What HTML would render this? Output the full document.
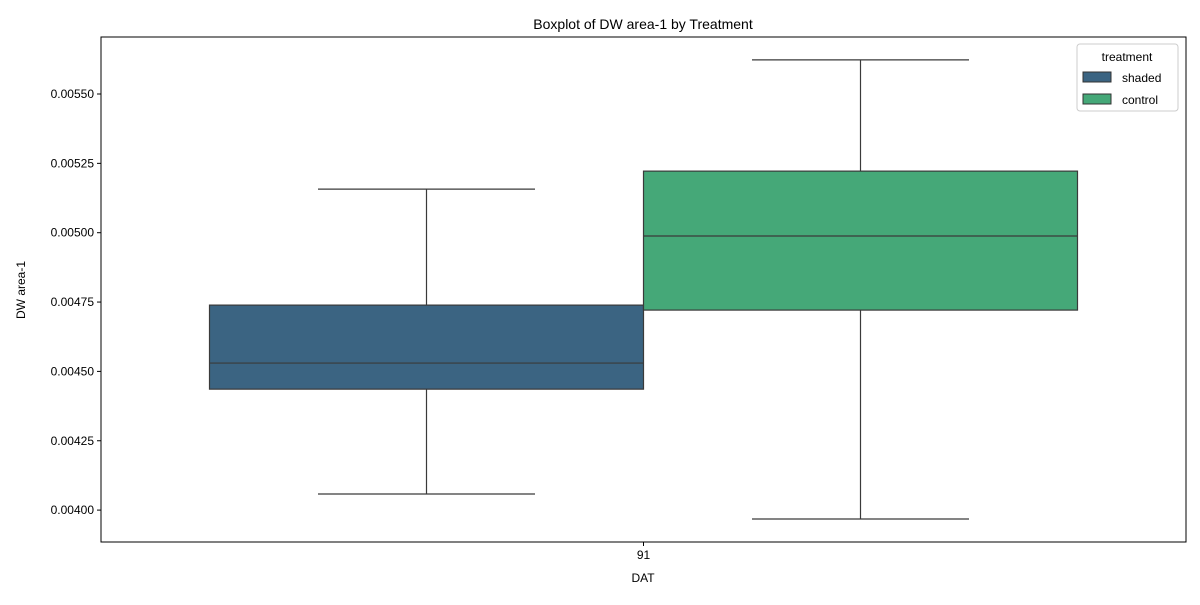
<!DOCTYPE html>
<html><head><meta charset="utf-8"><style>
body{margin:0;background:#fff;font-family:"Liberation Sans",sans-serif;}
svg text{font-family:"Liberation Sans",sans-serif;fill:#000;}
</style></head><body>
<svg width="1200" height="600">
<rect x="0" y="0" width="1200" height="600" fill="#fff"/>
<g id="plot"></g>
<text x="643" y="29" font-size="14" text-anchor="middle">Boxplot of DW area-1 by Treatment</text>
<text x="643" y="582" font-size="12" text-anchor="middle">DAT</text>
<text transform="translate(25,290) rotate(-90)" font-size="12" text-anchor="middle">DW area-1</text>
<g>
<rect x="1077" y="44" width="101" height="67" rx="3" fill="#fff" stroke="#ccc"/>
<text x="1127" y="61" font-size="12" text-anchor="middle">treatment</text>
<rect x="1083" y="72" width="28" height="10" fill="#3b6482" stroke="#333"/>
<text x="1122" y="82" font-size="12">shaded</text>
<rect x="1083" y="94" width="28" height="10" fill="#45a878" stroke="#333"/>
<text x="1122" y="104" font-size="12">control</text>
</g>
</svg>
<script>
const categories=["91"];
const groups=["shaded","control"];
const whiskerLow=[0.004058,0.003968];
const q1=[0.004436,0.004721];
const median=[0.00453,0.004988];
const q3=[0.004739,0.005222];
const whiskerHigh=[0.005157,0.005623];
const yTicks=[0.004,0.00425,0.0045,0.00475,0.005,0.00525,0.0055];
const yTickLabels=["0.00400","0.00425","0.00450","0.00475","0.00500","0.00525","0.00550"];
const colors=["#3b6482","#45a878"];
const L=101,R=1186,T=37,B=542;
const yMin=0.003885,yMax=0.0057055;
function y(v){return B-(v-yMin)/(yMax-yMin)*(B-T);}
const bandW=(R-L)/categories.length;
function xc(i){return L+bandW*(i+0.5);}
const ns="http://www.w3.org/2000/svg";
const g=document.getElementById('plot');
function mk(t,a,p){const e=document.createElementNS(ns,t);for(const k in a)e.setAttribute(k,a[k]);(p||g).appendChild(e);return e;}
yTicks.forEach((v,i)=>{
 const t=mk('line',{x1:L-4,x2:L,y1:y(v),y2:y(v),stroke:'#000'});
 
 
 const l=mk('text',{x:L-7,y:y(v)+4,'font-size':12,'text-anchor':'end'});
 l.textContent=yTickLabels[i];
 
 
});
categories.forEach((c,ci)=>{
 const cx=xc(ci);
 mk('line',{x1:cx,x2:cx,y1:B,y2:B+4,stroke:'#000'});
 const l=mk('text',{x:cx,y:B+17,'font-size':12,'text-anchor':'middle'});
 l.textContent=c;
 
 
 const w=bandW*0.8/groups.length;
 groups.forEach((gr,gi)=>{
  const x0=cx-bandW*0.4+w*gi, xm=x0+w/2;
  const bg=mk('g',{});
  
  
  mk('line',{x1:xm,x2:xm,y1:y(whiskerHigh[gi]),y2:y(q3[gi]),stroke:'#3a3a3a','stroke-width':1.2},bg);
  mk('line',{x1:xm,x2:xm,y1:y(q1[gi]),y2:y(whiskerLow[gi]),stroke:'#3a3a3a','stroke-width':1.2},bg);
  mk('line',{x1:xm-w/4,x2:xm+w/4,y1:y(whiskerHigh[gi]),y2:y(whiskerHigh[gi]),stroke:'#3a3a3a','stroke-width':1.2},bg);
  mk('line',{x1:xm-w/4,x2:xm+w/4,y1:y(whiskerLow[gi]),y2:y(whiskerLow[gi]),stroke:'#3a3a3a','stroke-width':1.2},bg);
  mk('rect',{x:x0,y:y(q3[gi]),width:w,height:y(q1[gi])-y(q3[gi]),fill:colors[gi],stroke:'#3a3a3a','stroke-width':1.2},bg);
  mk('line',{x1:x0,x2:x0+w,y1:y(median[gi]),y2:y(median[gi]),stroke:'#3a3a3a','stroke-width':1.2},bg);
 });
});
mk('rect',{x:L,y:T,width:R-L,height:B-T,fill:'none',stroke:'#000','stroke-width':1});
</script>
</body></html>
